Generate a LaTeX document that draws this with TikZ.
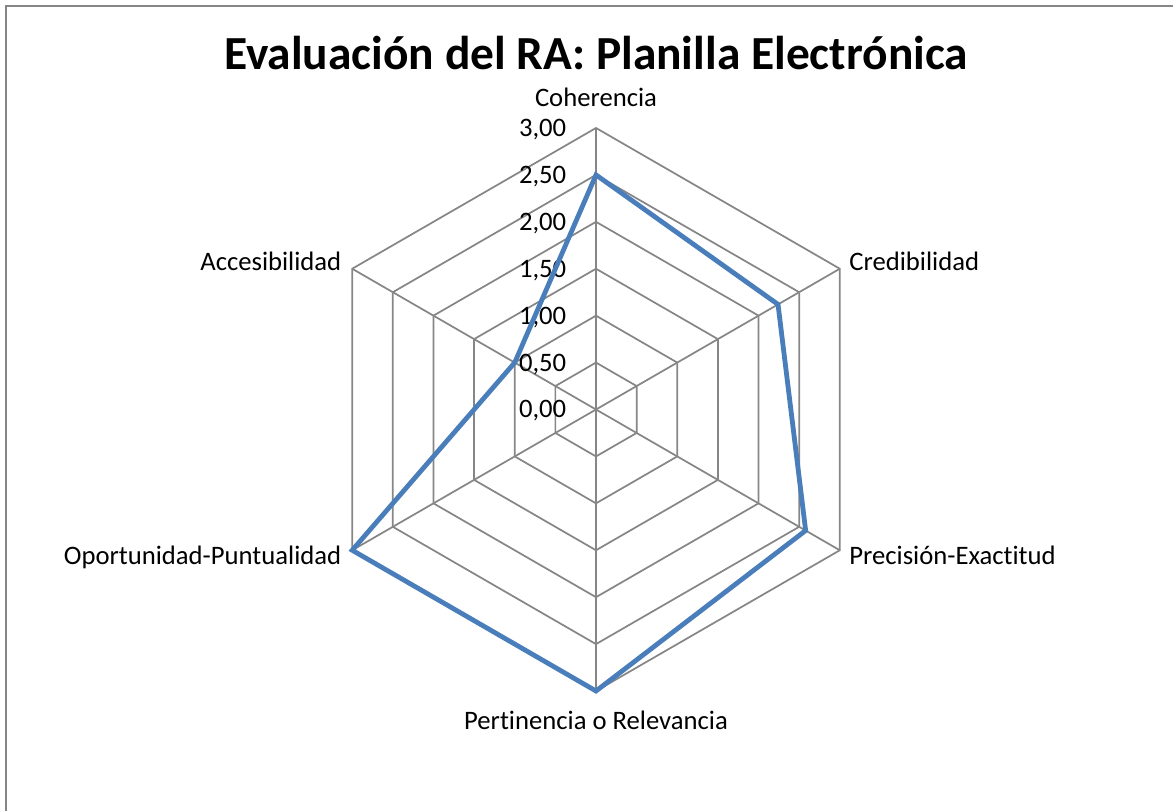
\documentclass[tikz,border=0pt]{standalone}
\usepackage{fontspec}
\setmainfont[Ligatures=NoCommon]{Carlito}
\usetikzlibrary{positioning}
\definecolor{gridgray}{HTML}{868686}
\definecolor{serieblue}{HTML}{4A7EBB}
\tikzset{
  gridline/.style={draw=gridgray, line width=1.3pt},
  serie/.style={draw=serieblue, line width=3.6pt, line join=miter},
  axislabel/.style={font=\fontsize{20}{24}\selectfont, inner sep=0pt},
  ticklabel/.style={font=\fontsize{20}{24}\selectfont, inner sep=0pt, anchor=east},
  titlelabel/.style={font=\fontsize{35.6}{40}\selectfont\bfseries, inner sep=0pt, anchor=base},
}
\begin{document}
\begin{tikzpicture}[x=0.75pt,y=0.75pt]
\useasboundingbox (-596,-400.5) rectangle (577,409.5);
\clip (-596,-400.5) rectangle (577,409.5);
% chart area frame
\draw[gridgray, line width=1.5pt] (-590,-430) rectangle (600,403.5);
\node[titlelabel] (title) at (0,340.2) {Evaluación del RA: Planilla Electrónica};
% axis ends (3,00)
\coordinate (top) at (90:281.5);
\coordinate (ur) at (30:281.5);
\coordinate (lr) at (-30:281.5);
\coordinate (bot) at (-90:281.5);
\coordinate (ll) at (210:281.5);
\coordinate (ul) at (150:281.5);
% rings
\foreach \k in {1,...,6}
  \draw[gridline] (90:{\k*46.92}) -- (30:{\k*46.92}) -- (-30:{\k*46.92})
    -- (-90:{\k*46.92}) -- (210:{\k*46.92}) -- (150:{\k*46.92}) -- cycle;
% spokes
\foreach \p in {top,ur,lr,bot,ll,ul}
  \draw[gridline] (0,0) -- (\p);
% scale
\foreach \k/\t in {0/{0,00},1/{0,50},2/{1,00},3/{1,50},4/{2,00},5/{2,50},6/{3,00}}
  \node[ticklabel] (tick\k) at (-29.5,{\k*46.92-1.5}) {\t};
% categories
\node[axislabel, above=16pt of top] (lcoh) {Coherencia};
\node[axislabel, anchor=base west, xshift=7pt, yshift=-1pt] (lcre) at (ur) {Credibilidad};
\node[axislabel, anchor=base west, xshift=7pt, yshift=-10.5pt] (lpre) at (lr) {Precisión-Exactitud};
\node[axislabel, below=15pt of bot] (lper) {Pertinencia o Relevancia};
\node[axislabel, anchor=base east, xshift=-8pt, yshift=-10.5pt] (lopo) at (ll) {Oportunidad-Puntualidad};
\node[axislabel, anchor=base east, xshift=-8pt, yshift=-1pt] (lacc) at (ul) {Accesibilidad};
% data
\coordinate (d1) at (90:{2.50*93.83});
\coordinate (d2) at (30:{2.24*93.83});
\coordinate (d3) at (-30:{2.58*93.83});
\coordinate (d4) at (-90:{3.00*93.83});
\coordinate (d5) at (210:{3.00*93.83});
\coordinate (d6) at (150:{1.00*93.83});
\draw[serie] (d1) -- (d2) -- (d3) -- (d4) -- (d5) -- (d6) -- cycle;
\end{tikzpicture}
\end{document}
